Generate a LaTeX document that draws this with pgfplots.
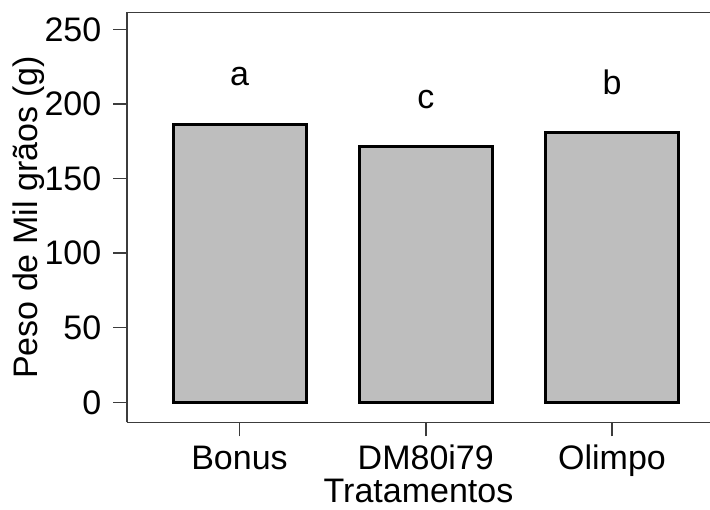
\documentclass[border=0pt]{standalone}
\usepackage{fontspec}
\setmainfont{Liberation Sans}
\usepackage{pgfplots}
\pgfplotsset{compat=1.18}
\definecolor{bargray}{RGB}{190,190,190}
\definecolor{axgray}{RGB}{60,60,60}
\begin{document}
\fontsize{17}{20}\selectfont
\begin{tikzpicture}
\useasboundingbox (-63.5pt,-43.35pt) rectangle (291.5pt,211.15pt);
\begin{axis}[
  at={(0pt,0pt)}, anchor=south west,
  width=291.5pt, height=205pt, scale only axis,
  xmin=0.396, xmax=3.526, ymin=-13.4, ymax=261.4,
  axis x line*=box, axis y line*=left,
  axis line style={-, draw=axgray, line width=0.75pt},
  xtick={1,2,3}, xticklabels={Bonus,DM80i79,Olimpo},
  ytick={0,50,100,150,200,250},
  xtick pos=bottom, ytick pos=left,
  tick align=outside, major tick length=7pt,
  tick style={draw=axgray, line width=0.75pt},
  /pgf/number format/assume math mode=true,
  tick label style={font=\fontsize{17}{20}\selectfont},
  xticklabel style={anchor=base, inner sep=0pt, yshift=-16.35pt},
  xlabel={Tratamentos},
  ylabel={Peso de Mil grãos (g)},
  label style={font=\fontsize{17}{20}\selectfont},
  xlabel style={at={(axis description cs:0.5,-0.1968)}, anchor=base, inner sep=0pt},
  ylabel style={at={(axis description cs:-0.15266,0.5)}, anchor=base, inner sep=0pt},
  clip=false,
]
\addplot[ybar, bar width=0.714, fill=bargray, draw=black, line width=1.5pt,
  nodes near coords, point meta=explicit symbolic,
  nodes near coords style={anchor=base, yshift=19.3pt, font=\fontsize{17}{20}\selectfont, text=black}]
  table[meta=lab] {
x y lab
1 186.5 a
2 171.3 c
3 180.7 b
};
\end{axis}
\end{tikzpicture}
\end{document}
